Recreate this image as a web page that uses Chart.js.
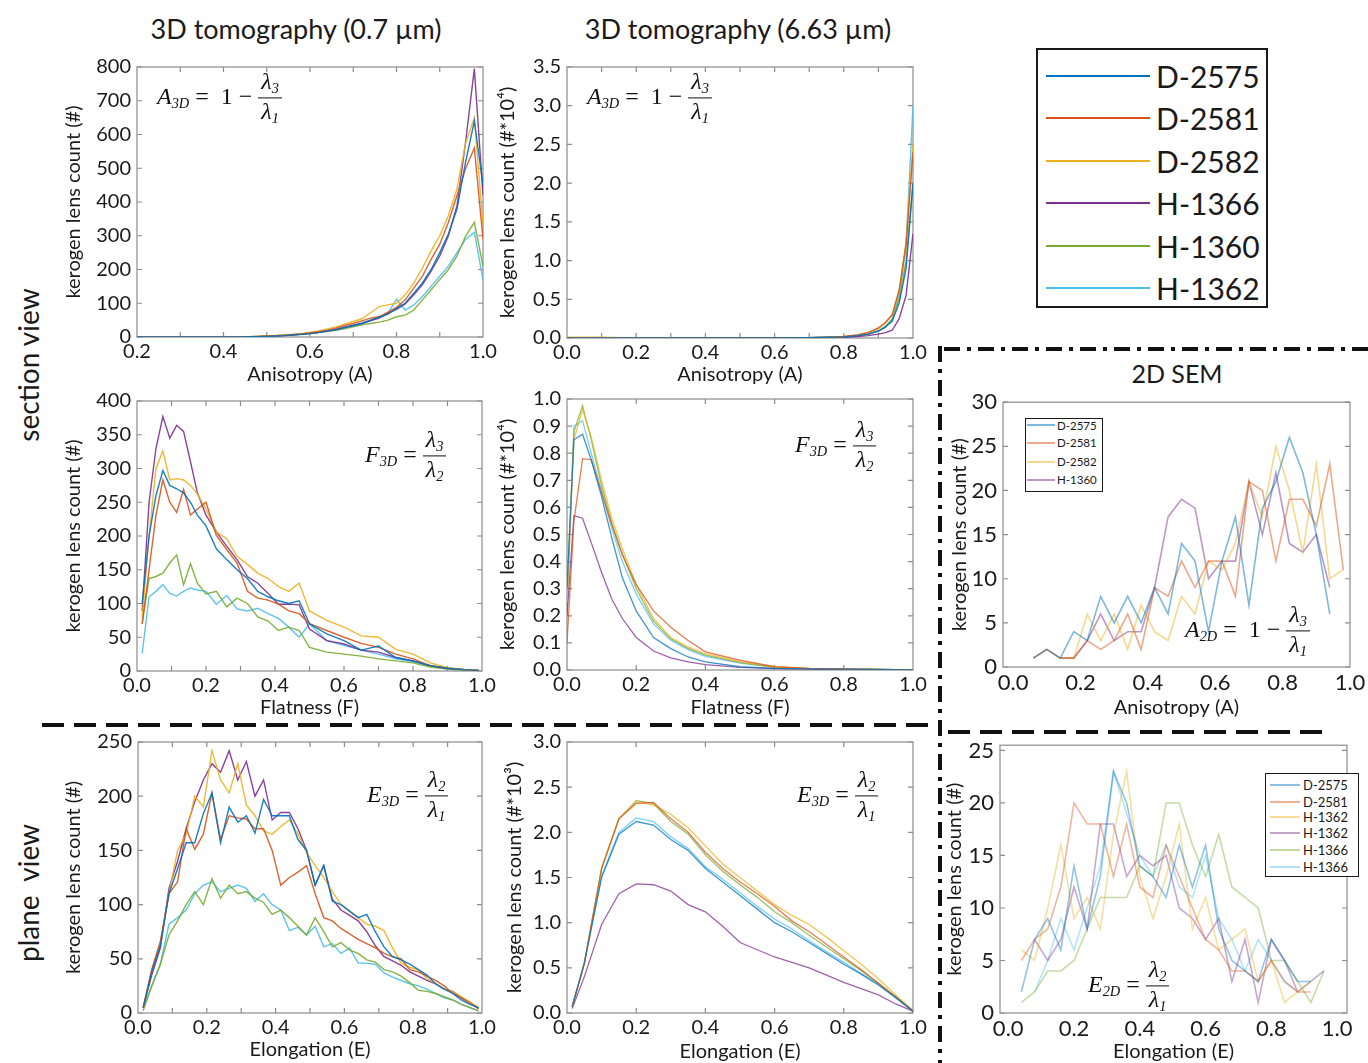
<!DOCTYPE html>
<html>
<head>
<meta charset="utf-8">
<title>kerogen lens shape distributions</title>
<script src="https://cdn.jsdelivr.net/npm/chart.js@4.4.1/dist/chart.umd.min.js"></script>
<style>
  body { margin: 0; background: #fff; }
  #page { position: relative; width: 1368px; height: 1063px; overflow: hidden; font-family: Lato, "Open Sans", sans-serif; color: #1a1a1a; }
  canvas { position: absolute; }
  .txt { position: absolute; white-space: nowrap; transform: translate(-50%, -50%); }
  .rot { position: absolute; white-space: nowrap; transform: translate(-50%, -50%) rotate(-90deg); font-size: 28px; }
  .eq { position: absolute; transform: translateY(-50%); font-family: "Liberation Serif", "DejaVu Serif", serif; font-size: 24px; display: flex; align-items: center; white-space: nowrap; color: #111; z-index: 3; }
  .eq i { font-style: italic; }
  .eq sub { font-size: 0.6em; font-style: italic; vertical-align: baseline; position: relative; top: 0.3em; }
  .frac { display: inline-flex; flex-direction: column; align-items: center; margin-left: 6px; line-height: 1.15; font-style: italic; }
  .frac > span:first-child { border-bottom: 1.4px solid #111; padding: 0 3px 1px; }
  .leg { position: absolute; box-sizing: border-box; background: #fff; z-index: 3; }
  .leg div { position: absolute; display: flex; align-items: center; white-space: nowrap; }
  .leg b { display: inline-block; font-weight: normal; }
  svg { position: absolute; left: 0; top: 0; z-index: 4; }
</style>
</head>
<body>
<div id="page">
  <div class="txt" style="left:296px;top:28px;font-size:27px">3D tomography (0.7 µm)</div>
  <div class="txt" style="left:738px;top:28px;font-size:27px">3D tomography (6.63 µm)</div>
  <div class="txt" style="left:1177px;top:373px;font-size:25px">2D SEM</div>
  <div class="rot" style="left:28px;top:365px">section view</div>
  <div class="rot" style="left:28px;top:893px">plane&nbsp;&nbsp;view</div>

  <div class="eq" style="left:157px;top:97px"><span><i>A</i><sub>3D</sub>&nbsp;=&nbsp;&nbsp;1 −</span><span class="frac"><span>λ<sub>3</sub></span><span>λ<sub>1</sub></span></span></div>
  <div class="eq" style="left:587px;top:97px"><span><i>A</i><sub>3D</sub>&nbsp;=&nbsp;&nbsp;1 −</span><span class="frac"><span>λ<sub>3</sub></span><span>λ<sub>1</sub></span></span></div>
  <div class="eq" style="left:365px;top:455px"><span><i>F</i><sub>3D</sub>&nbsp;=</span><span class="frac"><span>λ<sub>3</sub></span><span>λ<sub>2</sub></span></span></div>
  <div class="eq" style="left:795px;top:445px"><span><i>F</i><sub>3D</sub>&nbsp;=</span><span class="frac"><span>λ<sub>3</sub></span><span>λ<sub>2</sub></span></span></div>
  <div class="eq" style="left:1185px;top:630px"><span><i>A</i><sub>2D</sub>&nbsp;=&nbsp;&nbsp;1 −</span><span class="frac"><span>λ<sub>3</sub></span><span>λ<sub>1</sub></span></span></div>
  <div class="eq" style="left:367px;top:795px"><span><i>E</i><sub>3D</sub>&nbsp;=</span><span class="frac"><span>λ<sub>2</sub></span><span>λ<sub>1</sub></span></span></div>
  <div class="eq" style="left:797px;top:795px"><span><i>E</i><sub>3D</sub>&nbsp;=</span><span class="frac"><span>λ<sub>2</sub></span><span>λ<sub>1</sub></span></span></div>
  <div class="eq" style="left:1088px;top:985px"><span><i>E</i><sub>2D</sub>&nbsp;=</span><span class="frac"><span>λ<sub>2</sub></span><span>λ<sub>1</sub></span></span></div>

  <div id="legMain" class="leg" style="left:1036px;top:48px;width:232px;height:260px;border:2.5px solid #1a1a1a"></div>
  <div id="legSemA" class="leg" style="left:1025px;top:418px;width:78px;height:74px;border:1.3px solid #1a1a1a"></div>
  <div id="legSemE" class="leg" style="left:1265px;top:773px;width:94px;height:104px;border:1.3px solid #1a1a1a"></div>

  <svg width="1368" height="1063">
    <line x1="42" y1="725" x2="932" y2="725" stroke="#111" stroke-width="4" stroke-dasharray="22 10"/>
    <line x1="948" y1="732" x2="1332" y2="732" stroke="#111" stroke-width="4" stroke-dasharray="22 10"/>
    <line x1="940" y1="346" x2="940" y2="1063" stroke="#111" stroke-width="4" stroke-dasharray="16 7 4 7"/>
    <line x1="944" y1="349" x2="1368" y2="349" stroke="#111" stroke-width="4" stroke-dasharray="16 7 4 7"/>
  </svg>
</div>

<script>
// sample names and MATLAB line colours
var names3D = ['D-2575', 'D-2581', 'D-2582', 'H-1366', 'H-1360', 'H-1362'];
var namesSemA = ['D-2575', 'D-2581', 'D-2582', 'H-1360'];
var namesSemE = ['D-2575', 'D-2581', 'H-1362', 'H-1362', 'H-1366', 'H-1366'];
var lineColors = ['#0072BD', '#D95319', '#EDB120', '#7E2F8E', '#77AC30', '#4DBEEE'];

// tick values
var xTicksA07 = [0.2, 0.4, 0.6, 0.8, 1.0];
var xTicksUnit = [0, 0.2, 0.4, 0.6, 0.8, 1.0];
var xMarksA07 = [0.3, 0.4, 0.5, 0.6, 0.7, 0.8, 0.9];
var xMarksTenth = [0.1, 0.2, 0.3, 0.4, 0.5, 0.6, 0.7, 0.8, 0.9];
var xMarksFifth = [0.2, 0.4, 0.6, 0.8];
var yTicksA07 = [0, 100, 200, 300, 400, 500, 600, 700, 800];
var yTicksA66 = [0, 0.5, 1.0, 1.5, 2.0, 2.5, 3.0, 3.5];
var yTicksF07 = [0, 50, 100, 150, 200, 250, 300, 350, 400];
var yTicksF66 = [0, 0.1, 0.2, 0.3, 0.4, 0.5, 0.6, 0.7, 0.8, 0.9, 1.0];
var yTicksSemA = [0, 5, 10, 15, 20, 25, 30];
var yTicksE07 = [0, 50, 100, 150, 200, 250];
var yTicksE66 = [0, 0.5, 1.0, 1.5, 2.0, 2.5, 3.0];
var yTicksSemE = [0, 5, 10, 15, 20, 25];

// anisotropy, 0.7 um
var a07X = [0.20, 0.30, 0.32, 0.34, 0.36, 0.38, 0.40, 0.42, 0.44, 0.46, 0.48, 0.50, 0.52, 0.54, 0.56, 0.58, 0.60, 0.62, 0.64, 0.66, 0.68, 0.70, 0.72, 0.74, 0.76, 0.78, 0.80, 0.82, 0.84, 0.86, 0.88, 0.90, 0.92, 0.94, 0.96, 0.98, 1.00];
var a07_D2575 = [0, 0, 0, 0, 0, 0, 0, 0, 0, 1, 1, 2, 3, 4, 6, 8, 10, 13, 18, 22, 28, 34, 40, 50, 58, 68, 85, 100, 130, 160, 200, 250, 305, 380, 520, 640, 450];
var a07_D2581 = [0, 0, 0, 0, 0, 0, 0, 0, 0, 1, 2, 3, 4, 5, 7, 9, 12, 16, 20, 26, 34, 40, 48, 56, 60, 74, 88, 110, 145, 180, 230, 275, 340, 420, 500, 560, 290];
var a07_D2582 = [0, 0, 0, 0, 0, 0, 0, 0, 0, 1, 2, 3, 4, 6, 8, 10, 14, 18, 24, 30, 38, 46, 54, 72, 90, 95, 100, 125, 160, 205, 255, 300, 360, 440, 575, 650, 330];
var a07_H1366 = [0, 0, 0, 0, 0, 0, 0, 0, 0, 1, 1, 2, 3, 4, 6, 8, 10, 14, 18, 22, 28, 34, 40, 48, 56, 70, 82, 98, 125, 155, 195, 240, 300, 390, 580, 795, 420];
var a07_H1360 = [0, 0, 0, 0, 0, 0, 0, 0, 0, 1, 2, 3, 4, 5, 7, 9, 11, 14, 16, 20, 24, 30, 36, 40, 44, 50, 60, 65, 80, 110, 140, 170, 200, 240, 300, 340, 210];
var a07_H1362 = [0, 0, 0, 0, 0, 0, 0, 0, 0, 1, 2, 3, 4, 5, 7, 9, 11, 14, 17, 22, 28, 34, 42, 50, 60, 70, 112, 80, 95, 120, 150, 180, 210, 250, 290, 310, 170];

// anisotropy, 6.63 um (x 10^4)
var a66X = [0.0, 0.1, 0.2, 0.3, 0.4, 0.5, 0.6, 0.7, 0.75, 0.8, 0.84, 0.87, 0.9, 0.92, 0.94, 0.96, 0.98, 1.0];
var a66_D2575 = [0, 0, 0, 0, 0, 0, 0, 0.005, 0.01, 0.015, 0.03, 0.05, 0.09, 0.14, 0.22, 0.45, 0.9, 2.0];
var a66_D2581 = [0, 0, 0, 0, 0, 0, 0, 0.005, 0.01, 0.02, 0.04, 0.07, 0.13, 0.2, 0.3, 0.62, 1.2, 2.4];
var a66_D2582 = [0.01, 0.01, 0, 0, 0, 0, 0, 0.005, 0.01, 0.02, 0.04, 0.07, 0.12, 0.19, 0.3, 0.6, 1.25, 2.5];
var a66_H1366 = [0, 0, 0, 0, 0, 0, 0, 0, 0.005, 0.01, 0.02, 0.03, 0.05, 0.07, 0.1, 0.25, 0.55, 1.35];
var a66_H1360 = [0, 0, 0, 0, 0, 0, 0, 0.005, 0.01, 0.015, 0.03, 0.05, 0.09, 0.14, 0.24, 0.5, 1.0, 2.0];
var a66_H1362 = [0, 0, 0, 0, 0, 0, 0, 0.005, 0.01, 0.015, 0.03, 0.05, 0.09, 0.15, 0.25, 0.55, 1.2, 3.0];

// flatness, 0.7 um
var f07X = [0.015, 0.035, 0.055, 0.075, 0.095, 0.115, 0.135, 0.155, 0.175, 0.2, 0.23, 0.26, 0.29, 0.32, 0.35, 0.38, 0.41, 0.44, 0.47, 0.5, 0.55, 0.6, 0.65, 0.7, 0.75, 0.8, 0.85, 0.9, 0.95, 0.99];
var f07_D2575 = [100, 200, 260, 297, 275, 270, 264, 250, 231, 215, 181, 165, 150, 137, 118, 110, 104, 100, 104, 70, 55, 45, 31, 37, 20, 15, 8, 4, 2, 1];
var f07_D2581 = [70, 150, 231, 283, 250, 235, 269, 231, 240, 250, 201, 180, 160, 118, 108, 105, 99, 89, 85, 70, 60, 50, 41, 35, 25, 18, 8, 4, 2, 1];
var f07_D2582 = [79, 200, 300, 326, 283, 285, 283, 275, 262, 240, 206, 196, 170, 158, 145, 137, 125, 118, 130, 89, 75, 65, 52, 50, 32, 25, 12, 5, 2, 1];
var f07_H1366 = [89, 250, 330, 377, 345, 364, 355, 310, 264, 231, 206, 185, 165, 140, 130, 115, 99, 99, 98, 62, 45, 40, 31, 28, 20, 15, 8, 4, 2, 1];
var f07_H1360 = [70, 137, 140, 145, 160, 172, 128, 159, 130, 114, 118, 95, 108, 100, 80, 74, 60, 65, 60, 35, 28, 25, 22, 18, 15, 12, 6, 3, 1, 1];
var f07_H1362 = [26, 110, 118, 128, 115, 111, 118, 123, 120, 118, 99, 112, 92, 89, 93, 85, 78, 65, 50, 70, 45, 38, 31, 25, 18, 14, 7, 3, 1, 1];

// flatness, 6.63 um (x 10^4)
var f66X = [0, 0.02, 0.045, 0.07, 0.1, 0.13, 0.16, 0.2, 0.25, 0.3, 0.35, 0.4, 0.5, 0.6, 0.7, 0.8, 0.9, 1.0];
var f66_D2575 = [0.3, 0.85, 0.87, 0.776, 0.64, 0.485, 0.34, 0.218, 0.12, 0.079, 0.048, 0.03, 0.012, 0.006, 0.004, 0.003, 0.002, 0];
var f66_D2581 = [0.1, 0.55, 0.78, 0.776, 0.655, 0.533, 0.424, 0.315, 0.218, 0.158, 0.109, 0.067, 0.036, 0.012, 0.006, 0.004, 0.002, 0];
var f66_D2582 = [0.25, 0.85, 0.96, 0.86, 0.7, 0.558, 0.448, 0.315, 0.19, 0.12, 0.085, 0.06, 0.03, 0.012, 0.006, 0.004, 0.002, 0];
var f66_H1366 = [0.2, 0.57, 0.56, 0.47, 0.36, 0.26, 0.19, 0.12, 0.07, 0.045, 0.03, 0.02, 0.01, 0.005, 0.003, 0.002, 0.001, 0];
var f66_H1360 = [0.3, 0.88, 0.975, 0.85, 0.68, 0.54, 0.43, 0.3, 0.18, 0.115, 0.08, 0.055, 0.028, 0.01, 0.005, 0.003, 0.002, 0];
var f66_H1362 = [0.22, 0.9, 0.92, 0.8, 0.66, 0.52, 0.4, 0.28, 0.17, 0.11, 0.075, 0.05, 0.025, 0.01, 0.005, 0.003, 0.002, 0];

// 2D SEM anisotropy
var semAX = [0.06, 0.10, 0.14, 0.18, 0.22, 0.26, 0.30, 0.34, 0.38, 0.42, 0.46, 0.50, 0.54, 0.58, 0.62, 0.66, 0.70, 0.74, 0.78, 0.82, 0.86, 0.90, 0.94, 0.98];
var semA_D2575 = [1, 2, 1, 4, 3, 8, 5, 8, 5, 9, 6, 14, 12, 4, 12, 17, 7, 18, 21, 26, 22, 15, 6, null];
var semA_D2581 = [1, 2, 1, 1, 3, 2, 3, 6, 2, 9, 8, 12, 9, 12, 12, 8, 21, 20, 12, 19, 19, 16, 23, 11];
var semA_D2582 = [1, 2, 1, 1, 6, 3, 6, 2, 7, 4, 3, 8, 6, 12, 11, 14, 21, 17, 25, 20, 13, 23, 10, 11];
var semA_H1360 = [null, null, 1, 1, 3, 6, 3, 4, 4, 9, 17, 19, 18, 10, 12, 12, 21, 15, 22, 14, 13, 15, 9, null];

// elongation, 0.7 um
var e07X = [0.015, 0.04, 0.065, 0.09, 0.115, 0.14, 0.165, 0.19, 0.215, 0.24, 0.265, 0.29, 0.315, 0.34, 0.365, 0.39, 0.415, 0.44, 0.465, 0.49, 0.515, 0.54, 0.565, 0.59, 0.615, 0.64, 0.665, 0.69, 0.715, 0.74, 0.765, 0.79, 0.815, 0.84, 0.865, 0.89, 0.915, 0.94, 0.965, 0.99];
var e07_D2575 = [5, 38, 62, 110, 133, 157, 157, 184, 203, 157, 190, 176, 182, 166, 197, 182, 182, 182, 160, 150, 118, 136, 103, 100, 94, 88, 91, 75, 61, 52, 49, 45, 40, 35, 27, 22, 18, 12, 8, 5];
var e07_D2581 = [5, 40, 66, 110, 121, 170, 151, 165, 203, 160, 182, 180, 179, 170, 170, 150, 118, 125, 130, 136, 110, 88, 85, 78, 73, 68, 64, 60, 55, 52, 50, 40, 38, 34, 30, 25, 18, 14, 9, 4];
var e07_D2582 = [5, 40, 65, 110, 150, 165, 200, 190, 242, 215, 203, 230, 192, 182, 168, 165, 172, 178, 165, 148, 136, 125, 112, 100, 94, 88, 82, 80, 76, 60, 46, 42, 40, 32, 27, 22, 20, 15, 10, 5];
var e07_H1366 = [5, 35, 60, 115, 140, 170, 195, 215, 230, 222, 242, 215, 232, 200, 215, 178, 185, 185, 170, 150, 118, 136, 105, 95, 90, 85, 75, 62, 52, 48, 44, 38, 34, 30, 27, 22, 20, 14, 10, 4];
var e07_H1360 = [2, 25, 45, 72, 85, 100, 112, 100, 124, 106, 118, 110, 112, 106, 102, 91, 95, 88, 80, 72, 88, 75, 61, 65, 58, 55, 49, 47, 40, 38, 34, 28, 21, 20, 18, 15, 12, 8, 5, 2];
var e07_H1362 = [5, 25, 45, 82, 88, 95, 110, 118, 121, 112, 115, 118, 115, 103, 110, 100, 95, 76, 79, 72, 80, 61, 64, 55, 60, 46, 46, 45, 37, 33, 30, 27, 25, 22, 18, 14, 12, 8, 5, 2];

// elongation, 6.63 um (x 10^3)
var e66X = [0.015, 0.05, 0.10, 0.15, 0.20, 0.25, 0.30, 0.35, 0.40, 0.45, 0.50, 0.55, 0.60, 0.65, 0.70, 0.75, 0.80, 0.85, 0.90, 0.95, 1.00];
var e66_D2575 = [0.07, 0.55, 1.5, 1.98, 2.12, 2.08, 1.92, 1.8, 1.6, 1.45, 1.3, 1.15, 1.0, 0.9, 0.78, 0.66, 0.54, 0.43, 0.31, 0.17, 0.02];
var e66_D2581 = [0.07, 0.55, 1.6, 2.15, 2.32, 2.33, 2.15, 2.0, 1.78, 1.6, 1.45, 1.32, 1.18, 1.02, 0.9, 0.76, 0.62, 0.48, 0.33, 0.18, 0.02];
var e66_D2582 = [0.07, 0.55, 1.6, 2.15, 2.34, 2.3, 2.2, 2.05, 1.85, 1.65, 1.5, 1.35, 1.2, 1.08, 0.98, 0.84, 0.69, 0.54, 0.38, 0.2, 0.03];
var e66_H1366 = [0.05, 0.4, 0.98, 1.32, 1.43, 1.42, 1.35, 1.2, 1.12, 0.96, 0.78, 0.7, 0.62, 0.56, 0.5, 0.42, 0.34, 0.27, 0.2, 0.1, 0.02];
var e66_H1360 = [0.07, 0.55, 1.6, 2.15, 2.35, 2.32, 2.12, 1.98, 1.75, 1.57, 1.42, 1.28, 1.12, 1.0, 0.86, 0.73, 0.6, 0.47, 0.33, 0.18, 0.02];
var e66_H1362 = [0.07, 0.55, 1.52, 2.0, 2.16, 2.12, 1.95, 1.82, 1.62, 1.48, 1.33, 1.18, 1.04, 0.93, 0.8, 0.68, 0.56, 0.44, 0.32, 0.17, 0.02];

// 2D SEM elongation
var semEX = [0.04, 0.08, 0.12, 0.16, 0.20, 0.24, 0.28, 0.32, 0.36, 0.40, 0.44, 0.48, 0.52, 0.56, 0.60, 0.64, 0.68, 0.72, 0.76, 0.80, 0.84, 0.88, 0.92, 0.96];
var semE_1 = [2, 7, 9, 6, 14, 8, 13, 23, 20, 14, 13, 11, 16, 12, 16, 8, 5, 4, 3, 7, 5, 3, 3, null];
var semE_2 = [5, 7, 8, 12, 20, 18, 18, 13, 18, 12, 11, 16, 13, 10, 7, 6, 4, 4, 3, 5, 3, 2, 2, null];
var semE_3 = [6, 5, 10, 16, 9, 11, 8, 17, 23, 13, 9, 13, 18, 8, 11, 6, 7, 8, 3, 5, 1, 2, 3, null];
var semE_4 = [null, 7, 5, 7, 12, 8, 18, 18, 13, 15, 14, 15, 10, 9, 7, 9, 3, 7, 1, 7, 5, 2, 3, 4];
var semE_5 = [1, 2, 4, 4, 5, 8, 11, 11, 11, 14, 13, 20, 20, 16, 13, 17, 12, 11, 10, 5, 5, 3, 1, 4];
var semE_6 = [null, 2, 5, 9, 6, 10, 14, 23, 19, 15, 13, 16, 12, 11, 15, 9, 7, 4, 7, 5, 3, 2, null, null];

var FONT = 'Lato, "Open Sans", sans-serif';

function fade(hex, a) {
  var n = parseInt(hex.slice(1), 16);
  return 'rgba(' + (n >> 16) + ',' + ((n >> 8) & 255) + ',' + (n & 255) + ',' + a + ')';
}

// MATLAB style box with inward tick marks
var boxPlugin = {
  id: 'box',
  beforeDatasetsDraw: function(chart, args, opts) {
    var a = chart.chartArea, ctx = chart.ctx;
    var xs = chart.scales.x, ys = chart.scales.y;
    ctx.save();
    ctx.strokeStyle = '#8c8c8c';
    ctx.lineWidth = 1.2;
    ctx.strokeRect(a.left, a.top, a.right - a.left, a.bottom - a.top);
    ctx.beginPath();
    (opts.xMarks || []).forEach(function(v) {
      var px = xs.getPixelForValue(v);
      ctx.moveTo(px, a.bottom); ctx.lineTo(px, a.bottom - 5);
      ctx.moveTo(px, a.top); ctx.lineTo(px, a.top + 5);
    });
    (opts.yMarks || []).forEach(function(v) {
      var py = ys.getPixelForValue(v);
      ctx.moveTo(a.left, py); ctx.lineTo(a.left + 5, py);
      ctx.moveTo(a.right, py); ctx.lineTo(a.right - 5, py);
    });
    ctx.stroke();
    ctx.restore();
  }
};

function makePanel(p) {
  var titleSize = 20;
  var half = titleSize * 1.2 / 2;
  var yW = p.l - (p.yTitleX - half);
  var xH = p.xTitleY + half - p.b;
  var padTop = 14, padRight = 24;
  var w = (p.r - p.l) + yW + padRight;
  var h = (p.b - p.t) + xH + padTop;
  var canvas = document.createElement('canvas');
  canvas.width = w;
  canvas.height = h;
  canvas.style.left = (p.l - yW) + 'px';
  canvas.style.top = (p.t - padTop) + 'px';
  canvas.style.width = w + 'px';
  canvas.style.height = h + 'px';
  document.getElementById('page').appendChild(canvas);

  var datasets = p.ys.map(function(ys, i) {
    return {
      label: p.names[i],
      data: p.x.map(function(x, j) { return { x: x, y: ys[j] }; }),
      borderColor: fade(lineColors[i], p.alpha),
      borderWidth: p.lw,
      pointRadius: 0,
      tension: 0,
      fill: false
    };
  });

  new Chart(canvas, {
    type: 'line',
    data: { datasets: datasets },
    options: {
      responsive: false,
      animation: false,
      devicePixelRatio: 1,
      layout: { padding: { top: padTop, right: padRight, left: 0, bottom: 0 } },
      plugins: {
        legend: { display: false },
        tooltip: { enabled: false },
        box: { xMarks: p.xMarks, yMarks: p.yTicks }
      },
      scales: {
        x: {
          type: 'linear', min: p.xMin, max: p.xMax,
          grid: { display: false, drawTicks: false },
          border: { display: false },
          ticks: {
            font: { family: FONT, size: p.tick }, color: '#1a1a1a', padding: 3,
            maxRotation: 0, autoSkip: false,
            callback: function(v) { return v.toFixed(1); }
          },
          afterBuildTicks: function(s) { s.ticks = p.xTicks.map(function(v) { return { value: v }; }); },
          afterFit: function(s) { s.height = xH; },
          title: { display: true, text: p.xTitle, font: { family: FONT, size: titleSize }, color: '#1a1a1a', padding: 0 }
        },
        y: {
          type: 'linear', min: p.yMin, max: p.yMax,
          grid: { display: false, drawTicks: false },
          border: { display: false },
          ticks: {
            font: { family: FONT, size: p.tick }, color: '#1a1a1a', padding: 6, autoSkip: false,
            callback: function(v) { return v.toFixed(p.yDec); }
          },
          afterBuildTicks: function(s) { s.ticks = p.yTicks.map(function(v) { return { value: v }; }); },
          afterFit: function(s) { s.width = yW; },
          title: { display: true, text: p.yTitle, font: { family: FONT, size: titleSize }, color: '#1a1a1a', padding: 0 }
        }
      }
    },
    plugins: [boxPlugin]
  });
}

var countTitle = 'kerogen lens count (#)';

makePanel({ l: 137, t: 63, r: 483, b: 337, yTitleX: 74, xTitleY: 375, tick: 20,
  xMin: 0.2, xMax: 1.0, xTicks: xTicksA07, xMarks: xMarksA07, yMin: 0, yMax: 800, yTicks: yTicksA07, yDec: 0,
  xTitle: 'Anisotropy (A)', yTitle: countTitle, names: names3D, lw: 1.4, alpha: 0.9,
  x: a07X, ys: [a07_D2575, a07_D2581, a07_D2582, a07_H1366, a07_H1360, a07_H1362] });

makePanel({ l: 567, t: 63, r: 913, b: 338, yTitleX: 508, xTitleY: 375, tick: 20,
  xMin: 0, xMax: 1.0, xTicks: xTicksUnit, xMarks: xMarksTenth, yMin: 0, yMax: 3.5, yTicks: yTicksA66, yDec: 1,
  xTitle: 'Anisotropy (A)', yTitle: 'kerogen lens count (#*10⁴)', names: names3D, lw: 1.4, alpha: 0.9,
  x: a66X, ys: [a66_D2575, a66_D2581, a66_D2582, a66_H1366, a66_H1360, a66_H1362] });

makePanel({ l: 137, t: 397, r: 482, b: 671, yTitleX: 74, xTitleY: 708, tick: 20,
  xMin: 0, xMax: 1.0, xTicks: xTicksUnit, xMarks: xMarksTenth, yMin: 0, yMax: 400, yTicks: yTicksF07, yDec: 0,
  xTitle: 'Flatness (F)', yTitle: countTitle, names: names3D, lw: 1.4, alpha: 0.9,
  x: f07X, ys: [f07_D2575, f07_D2581, f07_D2582, f07_H1366, f07_H1360, f07_H1362] });

makePanel({ l: 567, t: 395, r: 913, b: 670, yTitleX: 508, xTitleY: 708, tick: 20,
  xMin: 0, xMax: 1.0, xTicks: xTicksUnit, xMarks: xMarksFifth, yMin: 0, yMax: 1.0, yTicks: yTicksF66, yDec: 1,
  xTitle: 'Flatness (F)', yTitle: 'kerogen lens count (#*10⁴)', names: names3D, lw: 1.3, alpha: 0.75,
  x: f66X, ys: [f66_D2575, f66_D2581, f66_D2582, f66_H1366, f66_H1360, f66_H1362] });

makePanel({ l: 1003, t: 397, r: 1350, b: 667, yTitleX: 960, xTitleY: 708, tick: 22,
  xMin: -0.03, xMax: 1.0, xTicks: xTicksUnit, xMarks: [], yMin: 0, yMax: 30, yTicks: yTicksSemA, yDec: 0,
  xTitle: 'Anisotropy (A)', yTitle: countTitle, names: namesSemA, lw: 1.6, alpha: 0.5,
  x: semAX, ys: [semA_D2575, semA_D2581, semA_D2582, semA_H1360] });

makePanel({ l: 138, t: 738, r: 482, b: 1013, yTitleX: 74, xTitleY: 1050, tick: 20,
  xMin: 0, xMax: 1.0, xTicks: xTicksUnit, xMarks: xMarksTenth, yMin: 0, yMax: 250, yTicks: yTicksE07, yDec: 0,
  xTitle: 'Elongation (E)', yTitle: countTitle, names: names3D, lw: 1.4, alpha: 0.9,
  x: e07X, ys: [e07_D2575, e07_D2581, e07_D2582, e07_H1366, e07_H1360, e07_H1362] });

makePanel({ l: 567, t: 738, r: 913, b: 1013, yTitleX: 515, xTitleY: 1052, tick: 20,
  xMin: 0, xMax: 1.0, xTicks: xTicksUnit, xMarks: xMarksFifth, yMin: 0, yMax: 3.0, yTicks: yTicksE66, yDec: 1,
  xTitle: 'Elongation (E)', yTitle: 'kerogen lens count (#*10³)', names: names3D, lw: 1.3, alpha: 0.75,
  x: e66X, ys: [e66_D2575, e66_D2581, e66_D2582, e66_H1366, e66_H1360, e66_H1362] });

makePanel({ l: 1000, t: 740, r: 1347, b: 1013, yTitleX: 955, xTitleY: 1052, tick: 22,
  xMin: -0.025, xMax: 1.03, xTicks: xTicksUnit, xMarks: [], yMin: 0, yMax: 25.5, yTicks: yTicksSemE, yDec: 0,
  xTitle: 'Elongation (E)', yTitle: countTitle, names: namesSemE, lw: 1.6, alpha: 0.42,
  x: semEX, ys: [semE_1, semE_2, semE_3, semE_4, semE_5, semE_6] });

// legends
function fillLegend(id, names, rows, lineX, lineW, lineH, textX, size, alpha) {
  var box = document.getElementById(id);
  names.forEach(function(name, i) {
    var row = document.createElement('div');
    row.style.top = (rows[i] - size * 0.7) + 'px';
    row.style.height = (size * 1.4) + 'px';
    row.style.left = lineX + 'px';
    var line = document.createElement('b');
    line.style.width = lineW + 'px';
    line.style.height = lineH + 'px';
    line.style.background = fade(lineColors[i], alpha);
    line.style.marginRight = (textX - lineX - lineW) + 'px';
    var label = document.createElement('span');
    label.textContent = name;
    label.style.fontSize = size + 'px';
    row.appendChild(line);
    row.appendChild(label);
    box.appendChild(row);
  });
}

fillLegend('legMain', names3D, [26, 68, 111, 153, 196, 238], 8, 104, 2.5, 118, 30, 1);
fillLegend('legSemA', namesSemA, [6, 24, 43, 61], 1, 28, 1.5, 31, 11.5, 0.5);
fillLegend('legSemE', namesSemE, [11, 28, 43, 59, 76, 93], 4, 30, 1.5, 37, 13, 0.45);
</script>
</body>
</html>
